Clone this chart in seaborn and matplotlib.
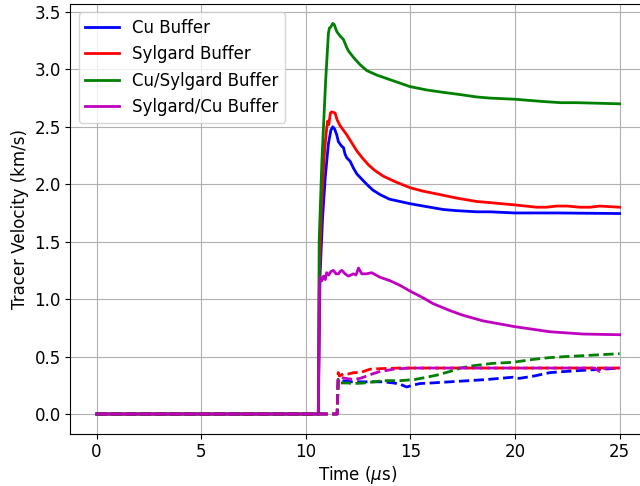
import numpy as np
import pandas as pd
import matplotlib
matplotlib.use('Agg')
import matplotlib.pyplot as plt
import seaborn as sns

# solid traces (front tracer)
cu_t = [0, 10.6, 10.68, 10.8, 10.93, 11.08, 11.2, 11.29, 11.38, 11.48, 11.56, 11.64, 11.72, 11.8, 11.88, 11.96,
        12.12, 12.28, 12.44, 12.7, 12.91, 13.2, 13.55, 14.0, 14.5, 15.0, 15.62, 16.57, 17.21, 18.16, 18.8, 20.0,
        22.0, 25.0]
cu_v = [0, 0, 1.2, 1.7, 2.06, 2.35, 2.47, 2.50, 2.48, 2.43, 2.37, 2.35, 2.33, 2.32, 2.26, 2.23,
        2.2, 2.14, 2.09, 2.04, 2.0, 1.95, 1.91, 1.87, 1.85, 1.83, 1.81, 1.78, 1.77, 1.76, 1.76, 1.75,
        1.75, 1.745]

syl_t = [0, 10.6, 10.65, 10.75, 10.9, 11.0, 11.05, 11.1, 11.18, 11.24, 11.4, 11.5, 11.64, 11.8, 11.96, 12.2,
         12.44, 12.7, 12.99, 13.3, 13.71, 14.3, 14.98, 15.6, 16.41, 17.2, 18.16, 18.8, 20.0, 21.03, 21.5, 21.98,
         22.5, 23.09, 23.6, 24.05, 25.0]
syl_v = [0, 0, 1.2, 1.8, 2.3, 2.49, 2.55, 2.52, 2.62, 2.63, 2.62, 2.56, 2.51, 2.47, 2.43, 2.36,
         2.29, 2.23, 2.17, 2.12, 2.07, 2.02, 1.97, 1.94, 1.91, 1.88, 1.85, 1.84, 1.82, 1.80, 1.80, 1.81,
         1.81, 1.80, 1.80, 1.81, 1.80]

cusyl_t = [0, 10.6, 10.64, 10.77, 10.95, 11.08, 11.13, 11.2, 11.29, 11.36, 11.48, 11.64, 11.8, 11.96, 12.04,
           12.3, 12.6, 12.91, 13.4, 14.03, 14.98, 15.8, 16.57, 17.4, 18.16, 18.8, 19.99, 21.34, 22.2, 22.93,
           24.0, 25.0]
cusyl_v = [0, 0, 1.5, 2.2, 2.9, 3.31, 3.36, 3.37, 3.40, 3.39, 3.33, 3.29, 3.26, 3.19, 3.16,
           3.10, 3.04, 2.99, 2.95, 2.91, 2.85, 2.82, 2.80, 2.78, 2.76, 2.75, 2.74, 2.72, 2.71, 2.71,
           2.705, 2.70]

sylcu_t = [0, 10.6, 10.65, 10.69, 10.77, 10.85, 10.93, 11.0, 11.1, 11.2, 11.32, 11.45, 11.56, 11.64, 11.72,
           11.88, 12.04, 12.16, 12.28, 12.4, 12.52, 12.68, 12.9, 13.15, 13.55, 14.03, 14.5, 14.98, 15.62,
           16.09, 16.89, 17.5, 18.48, 20.0, 21.66, 23.25, 25.0]
sylcu_v = [0, 0, 1.1, 1.19, 1.16, 1.20, 1.17, 1.23, 1.21, 1.24, 1.25, 1.22, 1.22, 1.24, 1.25,
           1.22, 1.20, 1.21, 1.22, 1.21, 1.27, 1.22, 1.22, 1.23, 1.19, 1.16, 1.12, 1.07, 1.01,
           0.96, 0.90, 0.86, 0.81, 0.76, 0.716, 0.696, 0.69]

# dashed traces (rear tracer)
cu_rear_t = [0, 11.5, 11.55, 11.64, 12.2, 12.8, 13.71, 14.2, 14.5, 14.82, 15.1, 15.46, 16.0, 16.89, 17.8,
             18.64, 19.9, 20.2, 20.9, 21.66, 22.4, 23.25, 24.2, 25.0]
cu_rear_v = [0, 0, 0.30, 0.29, 0.28, 0.28, 0.28, 0.27, 0.26, 0.235, 0.25, 0.265, 0.27, 0.28, 0.29,
             0.30, 0.32, 0.31, 0.33, 0.36, 0.37, 0.38, 0.39, 0.40]

syl_rear_t = [0, 11.5, 11.55, 11.61, 11.8, 11.96, 12.3, 12.6, 13.07, 13.6, 14.5, 16.0, 18.0, 20.0, 22.0,
              24.0, 25.0]
syl_rear_v = [0, 0, 0.36, 0.33, 0.35, 0.345, 0.36, 0.36, 0.39, 0.395, 0.40, 0.40, 0.40, 0.40, 0.40,
              0.40, 0.40]

cusyl_rear_t = [0, 11.5, 11.55, 11.64, 12.0, 12.28, 12.8, 13.71, 14.5, 15.2, 15.78, 16.3, 16.89, 17.4, 18.0,
                18.9, 19.9, 20.86, 21.6, 22.45, 23.5, 25.0]
cusyl_rear_v = [0, 0, 0.30, 0.27, 0.27, 0.265, 0.27, 0.29, 0.29, 0.30, 0.32, 0.34, 0.37, 0.40, 0.42,
                0.44, 0.45, 0.475, 0.49, 0.50, 0.51, 0.525]

sylcu_rear_t = [0, 11.5, 11.55, 11.64, 11.9, 12.28, 12.6, 12.91, 13.2, 13.55, 13.9, 14.18, 15.0, 17.0, 19.0,
                21.0, 23.0, 23.8, 24.05, 24.3, 25.0]
sylcu_rear_v = [0, 0, 0.29, 0.32, 0.31, 0.30, 0.31, 0.33, 0.35, 0.37, 0.38, 0.39, 0.40, 0.40, 0.40,
                0.40, 0.40, 0.40, 0.37, 0.40, 0.40]

labels = ['Cu Buffer', 'Sylgard Buffer', 'Cu/Sylgard Buffer', 'Sylgard/Cu Buffer']
colors = ['b', 'r', 'g', 'm']

front = [(cu_t, cu_v), (syl_t, syl_v), (cusyl_t, cusyl_v), (sylcu_t, sylcu_v)]
rear = [(cu_rear_t, cu_rear_v), (syl_rear_t, syl_rear_v), (cusyl_rear_t, cusyl_rear_v),
        (sylcu_rear_t, sylcu_rear_v)]

plt.rcParams['font.size'] = 12

fig, ax = plt.subplots(figsize = (6.4, 4.86), dpi = 100)

handles = []
for (t, v), lab, c in zip(front, labels, colors):
    df = pd.DataFrame({'t': t, 'v': v})
    sns.lineplot(data = df, x = 't', y = 'v', color = c, linewidth = 2,
                 estimator = None, sort = False, ax = ax)
    handles.append(ax.lines[-1])

for (t, v), c in zip(rear, colors):
    df = pd.DataFrame({'t': t, 'v': v})
    sns.lineplot(data = df, x = 't', y = 'v', color = c, linewidth = 2, linestyle = '--',
                 estimator = None, sort = False, ax = ax)

ax.legend(handles, labels, loc = 'upper left')
ax.grid(True)
ax.set_xticks([0, 5, 10, 15, 20, 25])
ax.set_yticks(np.arange(0, 3.51, 0.5))
ax.set_xlabel('Time ($\\mu$s)', labelpad = 2)
ax.set_ylabel('Tracer Velocity (km/s)')
fig.subplots_adjust(left = 0.11, right = 1.009, bottom = 0.108, top = 0.992)
fig.savefig('out.png')
